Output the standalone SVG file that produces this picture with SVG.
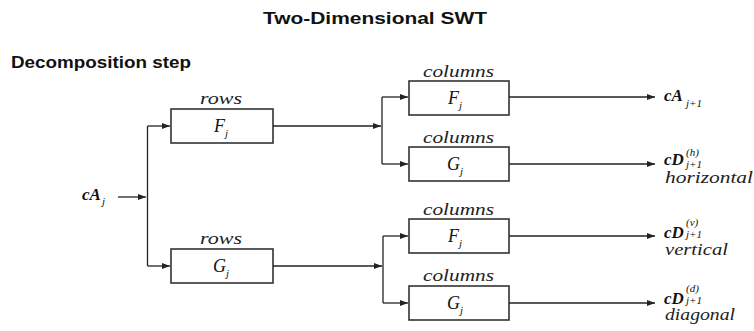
<svg xmlns="http://www.w3.org/2000/svg" width="754" height="331" viewBox="0 0 754 331">
<defs>
<marker id="ah" viewBox="0 0 8 6" refX="8" refY="3" markerWidth="8" markerHeight="6" markerUnits="userSpaceOnUse" orient="auto">
<path d="M0,0 L8,3 L0,6 Z" fill="#222"/>
</marker>
<style>
.box{fill:#fff;stroke:#333;stroke-width:1.6}
.ln{fill:none;stroke:#222;stroke-width:1.3}
.hd{font-weight:bold;font-size:17px;fill:#111}
.lab{font-style:italic;font-size:16px;fill:#222}
.sym{font-style:italic;font-size:18px;fill:#111}
.sub{font-style:italic;font-weight:normal;font-size:11px;fill:#111}
.out{font-style:italic;font-weight:bold;font-size:17px;fill:#111}
</style>
</defs>
<rect width="754" height="331" fill="#fff"/>
<g font-family="Liberation Sans, Arial, sans-serif">
<text class="hd" x="263" y="24" textLength="224" lengthAdjust="spacingAndGlyphs">Two-Dimensional SWT</text>
<text class="hd" x="11" y="68" textLength="180" lengthAdjust="spacingAndGlyphs">Decomposition step</text>
</g>
<g font-family="Liberation Serif, Times New Roman, serif">
<g id="input">
<text class="out" x="82" y="200">cA</text>
<text class="sub" x="102" y="205">j</text>
</g>

<g id="rowsF">
<text class="lab" x="200" y="104" textLength="42" lengthAdjust="spacingAndGlyphs">rows</text>
<rect class="box" x="171" y="109" width="102" height="34"/>
<text class="sym" x="214" y="132">F</text>
<text class="sub" x="225" y="137">j</text>
</g>
<g id="rowsG">
<text class="lab" x="200" y="244" textLength="42" lengthAdjust="spacingAndGlyphs">rows</text>
<rect class="box" x="171" y="249" width="102" height="34"/>
<text class="sym" x="213" y="272">G</text>
<text class="sub" x="226" y="277">j</text>
</g>

<g id="colF1">
<text class="lab" x="423" y="77" textLength="71" lengthAdjust="spacingAndGlyphs">columns</text>
<rect class="box" x="409" y="81" width="100" height="34"/>
<text class="sym" x="448" y="104">F</text>
<text class="sub" x="459" y="109">j</text>
</g>
<g id="colG1">
<text class="lab" x="423" y="143" textLength="71" lengthAdjust="spacingAndGlyphs">columns</text>
<rect class="box" x="409" y="147" width="100" height="34"/>
<text class="sym" x="447" y="170">G</text>
<text class="sub" x="460" y="175">j</text>
</g>
<g id="colF2">
<text class="lab" x="423" y="215" textLength="71" lengthAdjust="spacingAndGlyphs">columns</text>
<rect class="box" x="409" y="219" width="100" height="34"/>
<text class="sym" x="448" y="242">F</text>
<text class="sub" x="459" y="247">j</text>
</g>
<g id="colG2">
<text class="lab" x="423" y="281" textLength="71" lengthAdjust="spacingAndGlyphs">columns</text>
<rect class="box" x="409" y="286" width="100" height="34"/>
<text class="sym" x="447" y="309">G</text>
<text class="sub" x="460" y="314">j</text>
</g>

<g id="outA">
<text class="out" x="664" y="101">cA</text>
<text class="sub" x="686" y="107">j+1</text>
</g>
<g id="outH">
<text class="out" x="664" y="165">cD</text>
<text class="sub" x="686" y="156">(h)</text>
<text class="sub" x="686" y="168">j+1</text>
<text class="lab" x="665" y="183" textLength="88" lengthAdjust="spacingAndGlyphs">horizontal</text>
</g>
<g id="outV">
<text class="out" x="664" y="238">cD</text>
<text class="sub" x="686" y="226">(v)</text>
<text class="sub" x="686" y="238">j+1</text>
<text class="lab" x="665" y="255" textLength="63" lengthAdjust="spacingAndGlyphs">vertical</text>
</g>
<g id="outD">
<text class="out" x="664" y="304">cD</text>
<text class="sub" x="686" y="292">(d)</text>
<text class="sub" x="686" y="304">j+1</text>
<text class="lab" x="665" y="320" textLength="70" lengthAdjust="spacingAndGlyphs">diagonal</text>
</g>
</g>

<g id="connectors">
<path class="ln" d="M118,197 H146" marker-end="url(#ah)"/>
<path class="ln" d="M147.5,126 V266"/>
<path class="ln" d="M147.5,126 H170" marker-end="url(#ah)"/>
<path class="ln" d="M147.5,266 H170" marker-end="url(#ah)"/>
<path class="ln" d="M273,126 H381" marker-end="url(#ah)"/>
<path class="ln" d="M382,97 V164"/>
<path class="ln" d="M382,97 H408" marker-end="url(#ah)"/>
<path class="ln" d="M382,164 H408" marker-end="url(#ah)"/>
<path class="ln" d="M273,266 H382" marker-end="url(#ah)"/>
<path class="ln" d="M383,236 V303"/>
<path class="ln" d="M383,236 H408" marker-end="url(#ah)"/>
<path class="ln" d="M383,303 H408" marker-end="url(#ah)"/>
<path class="ln" d="M509,97 H655" marker-end="url(#ah)"/>
<path class="ln" d="M509,164 H655" marker-end="url(#ah)"/>
<path class="ln" d="M509,236 H655" marker-end="url(#ah)"/>
<path class="ln" d="M509,303 H655" marker-end="url(#ah)"/>
</g>
</svg>
